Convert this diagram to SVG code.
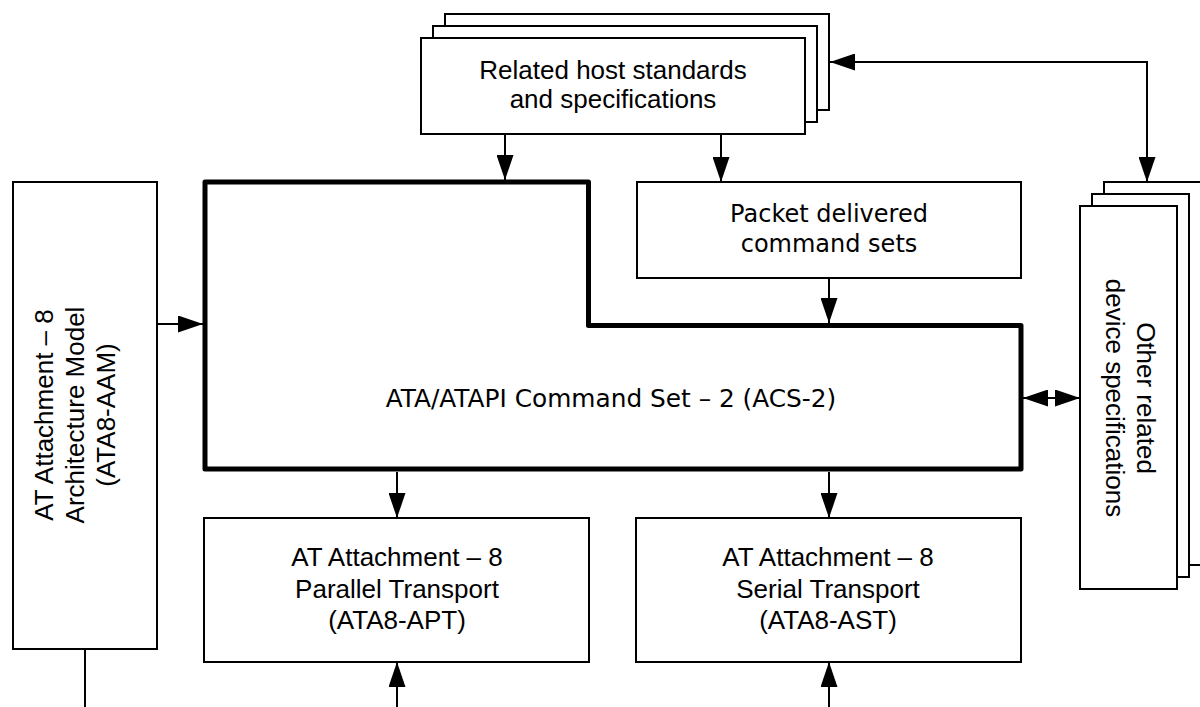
<svg xmlns="http://www.w3.org/2000/svg" width="1200" height="707" viewBox="0 0 1200 707">
<style>
.box{fill:#fff;stroke:#000;stroke-width:2}
.main{fill:#fff;stroke:#000;stroke-width:5;stroke-linejoin:round}
.ln{fill:none;stroke:#000;stroke-width:2}
.ta{font-family:"Liberation Sans",Arial,sans-serif;font-size:26px;fill:#000;text-anchor:middle}
.tv{font-family:"DejaVu Sans",Verdana,sans-serif;font-size:24px;fill:#000;text-anchor:middle}
</style>
<defs>
<marker id="ah" markerUnits="userSpaceOnUse" markerWidth="25" markerHeight="17" refX="25" refY="8.5" orient="auto" viewBox="0 0 25 17">
<path d="M0,0 L25,8.5 L0,17 z" fill="#000"/>
</marker>
<marker id="ahs" markerUnits="userSpaceOnUse" markerWidth="25" markerHeight="17" refX="0" refY="8.5" orient="auto" viewBox="0 0 25 17">
<path d="M25,0 L0,8.5 L25,17 z" fill="#000"/>
</marker>
</defs>
<rect width="1200" height="707" fill="#fff"/>
<g id="host">
<rect class="box" x="445" y="14" width="384" height="96"/>
<rect class="box" x="433" y="26" width="384" height="96"/>
<rect class="box" x="421" y="38" width="384" height="96"/>
<text class="ta" x="613" y="79">Related host standards</text>
<text class="ta" x="613" y="108">and specifications</text>
</g>
<g id="packet">
<rect class="box" x="637" y="182" width="384" height="96"/>
<text class="tv" x="829" y="222">Packet delivered</text>
<text class="tv" x="829" y="252">command sets</text>
</g>
<g id="acs2">
<path class="main" d="M205,182 L588.5,182 L588.5,325.5 L1021,325.5 L1021,469 L205,469 Z"/>
<text class="tv" x="611" y="407" style="font-size:24.8px">ATA/ATAPI Command Set – 2 (ACS-2)</text>
</g>
<g id="aam">
<rect class="box" x="13" y="182" width="144" height="467"/>
<text class="ta" transform="translate(85,415) rotate(-90)"><tspan x="0" y="-32">AT Attachment – 8</tspan><tspan x="0" y="-1">Architecture Model</tspan><tspan x="0" y="30">(ATA8-AAM)</tspan></text>
</g>
<g id="apt">
<rect class="box" x="204" y="518" width="385" height="144"/>
<text class="ta" x="397" y="566">AT Attachment – 8</text>
<text class="ta" x="397" y="598">Parallel Transport</text>
<text class="ta" x="397" y="629">(ATA8-APT)</text>
</g>
<g id="ast">
<rect class="box" x="636" y="518" width="385" height="144"/>
<text class="ta" x="828" y="566">AT Attachment – 8</text>
<text class="ta" x="828" y="598">Serial Transport</text>
<text class="ta" x="828" y="629">(ATA8-AST)</text>
</g>
<g id="other">
<rect class="box" x="1104" y="182" width="97" height="383"/>
<rect class="box" x="1092" y="194" width="97" height="383"/>
<rect class="box" x="1080" y="206" width="97" height="383"/>
<text class="ta" transform="translate(1122,398) rotate(90)"><tspan x="0" y="-15">Other related</tspan><tspan x="0" y="16">device specifications</tspan></text>
</g>
<g id="connectors">
<line class="ln" x1="505" y1="134" x2="505" y2="180" marker-end="url(#ah)"/>
<line class="ln" x1="721" y1="134" x2="721" y2="182" marker-end="url(#ah)"/>
<line class="ln" x1="829" y1="278" x2="829" y2="323" marker-end="url(#ah)"/>
<line class="ln" x1="397" y1="472" x2="397" y2="518" marker-end="url(#ah)"/>
<line class="ln" x1="829" y1="472" x2="829" y2="518" marker-end="url(#ah)"/>
<line class="ln" x1="397" y1="707" x2="397" y2="662" marker-end="url(#ah)"/>
<line class="ln" x1="829" y1="707" x2="829" y2="662" marker-end="url(#ah)"/>
<line class="ln" x1="157" y1="324" x2="203" y2="324" marker-end="url(#ah)"/>
<line class="ln" x1="85" y1="649" x2="85" y2="707"/>
<path class="ln" d="M830,62 L1147,62 L1147,182" marker-start="url(#ahs)" marker-end="url(#ah)"/>
<line class="ln" x1="1023" y1="398" x2="1080" y2="398" marker-start="url(#ahs)" marker-end="url(#ah)"/>
</g>
</svg>
